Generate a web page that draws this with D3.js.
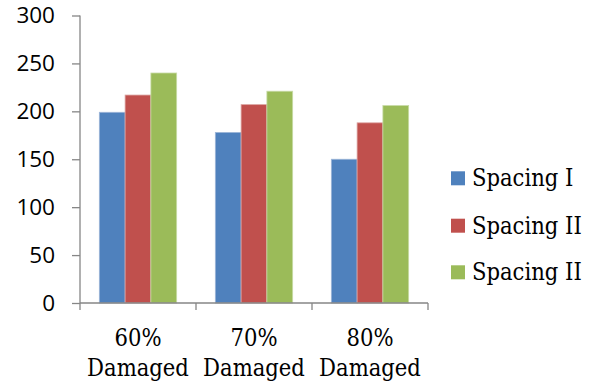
<!DOCTYPE html>
<html>
<head>
<meta charset="utf-8">
<script src="https://cdn.jsdelivr.net/npm/d3@7"></script>
<style>
  html, body { margin: 0; padding: 0; background: #fff; }
  svg { display: block; }
</style>
</head>
<body>
<svg id="chart" width="594" height="385"></svg>
<script>
// Damage levels along the x axis
const categories = ["60%|Damaged", "70%|Damaged", "80%|Damaged"];
// Series names as shown in the legend
const seriesNames = ["Spacing I", "Spacing II", "Spacing II"];
// Values per series, one per damage level
const spacing1 = [199, 178, 150];
const spacing2 = [217, 207, 188];
const spacing3 = [240, 221, 206];
const yTicks = [0, 50, 100, 150, 200, 250, 300];
const colors = ["#4F81BD", "#C0504D", "#9BBB59"];
const edgeColors = ["#9DB6D8", "#DCA3A1", "#C7DAA6"];

const seriesValues = [spacing1, spacing2, spacing3];

const svg = d3.select("#chart");
const plot = { left: 80, right: 428, top: 15.5, bottom: 303 };
const axisColor = "#868686";
const serif = "'DejaVu Serif', serif";

const x = d3.scaleBand()
  .domain(d3.range(categories.length))
  .range([plot.left, plot.right])
  .paddingInner(0)
  .paddingOuter(0);

const y = d3.scaleLinear()
  .domain([0, 300])
  .range([plot.bottom, plot.top]);

const bandW = x.bandwidth();
const barW = bandW / 4.5;
const groupOffset = (bandW - 3 * barW) / 2;

// Bars
seriesValues.forEach((vals, s) => {
  svg.append("g")
    .selectAll("rect")
    .data(vals)
    .join("rect")
    .attr("x", (d, i) => x(i) + groupOffset + s * barW)
    .attr("y", d => y(d))
    .attr("width", barW)
    .attr("height", d => y(0) - y(d))
    .attr("fill", colors[s])
    .attr("stroke", edgeColors[s])
    .attr("stroke-width", 0.8);
});

// Y axis
const yAxis = d3.axisLeft(y)
  .tickValues(yTicks)
  .tickSize(8)
  .tickPadding(17)
  .tickFormat(d3.format("d"));

const yg = svg.append("g")
  .attr("transform", `translate(${plot.left},0)`)
  .call(yAxis);
yg.select(".domain").attr("stroke", axisColor).attr("stroke-width", 1.3)
  .attr("d", `M0,${plot.top}V${plot.bottom}`);
yg.selectAll(".tick line").attr("stroke", axisColor).attr("stroke-width", 1.3);
yg.selectAll(".tick text")
  .attr("fill", "#000")
  .style("font-family", "'Open Sans', Lato, sans-serif")
  .style("font-size", "22.5px");

// X axis with boundary ticks between categories
const xg = svg.append("g");
xg.append("line")
  .attr("x1", plot.left).attr("x2", plot.right)
  .attr("y1", plot.bottom).attr("y2", plot.bottom)
  .attr("stroke", axisColor).attr("stroke-width", 1.3);
const boundaries = d3.range(categories.length + 1).map(i => i < categories.length ? x(i) : x(i - 1) + bandW);
xg.selectAll("line.tk")
  .data(boundaries)
  .join("line")
  .attr("class", "tk")
  .attr("x1", d => d).attr("x2", d => d)
  .attr("y1", plot.bottom).attr("y2", plot.bottom + 7)
  .attr("stroke", axisColor).attr("stroke-width", 1.3);

// Category labels on two lines
const labels = svg.append("g")
  .selectAll("text")
  .data(categories)
  .join("text")
  .attr("text-anchor", "middle")
  .attr("fill", "#000")
  .style("font-family", serif)
  .style("font-stretch", "condensed")
  .style("font-size", "23.5px");
labels.each(function(d, i) {
  const parts = d.split("|");
  const t = d3.select(this);
  parts.forEach((p, k) => {
    t.append("tspan")
      .attr("x", x(i) + bandW / 2)
      .attr("y", 346 + k * 30)
      .text(p);
  });
});

// Legend
const legend = svg.append("g");
const legendY = [178.3, 225.7, 272.3];
seriesNames.forEach((name, s) => {
  legend.append("rect")
    .attr("x", 451).attr("y", legendY[s] - 7)
    .attr("width", 14).attr("height", 14)
    .attr("fill", colors[s]);
  legend.append("text")
    .attr("x", 472).attr("y", legendY[s] + 8)
    .attr("fill", "#000")
    .style("font-family", serif)
    .style("font-stretch", "condensed")
    .style("font-size", "23.5px")
    .text(name);
});
</script>
</body>
</html>
